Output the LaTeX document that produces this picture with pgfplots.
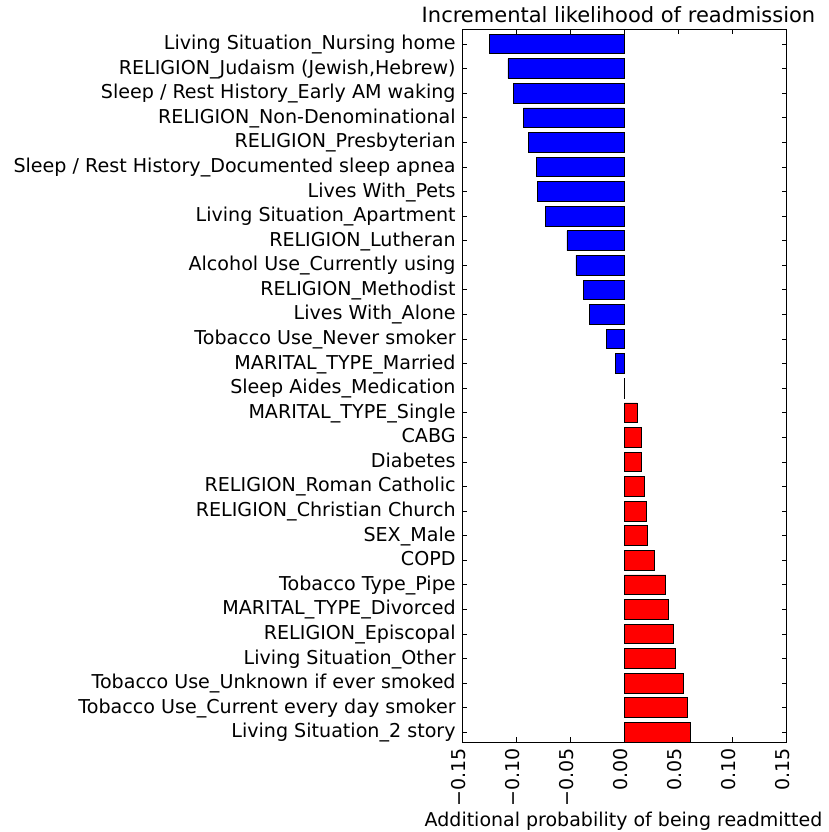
\documentclass[border=0pt]{standalone}
\usepackage{pgfplots}
\pgfplotsset{compat=1.18}
\usepackage{pgfplotstable}
\usepackage{fontspec}
\setmainfont{DejaVu Sans}

\definecolor{barblue}{RGB}{0,0,255}
\definecolor{barred}{RGB}{255,0,0}

% row index (0 = bottom row) and incremental probability
\pgfplotstableread{
y val
0  0.0613
1  0.0580
2  0.0545
3  0.0475
4  0.0450
5  0.0404
6  0.0382
7  0.0272
8  0.0216
9  0.0203
10 0.0188
11 0.0154
12 0.0155
13 0.0120
}\posdata

\pgfplotstableread{
y val
14 -0.0003
15 -0.0086
16 -0.0166
17 -0.0320
18 -0.0379
19 -0.0449
20 -0.0532
21 -0.0733
22 -0.0807
23 -0.0816
24 -0.0890
25 -0.0936
26 -0.1029
27 -0.1078
28 -0.1253
}\negdata

\begin{document}
\begin{tikzpicture}
\useasboundingbox (-462.3pt,-89.7pt) rectangle (366.7pt,742.3pt);
\begin{axis}[
  at={(0pt,0pt)}, anchor=south west,
  scale only axis,
  width=324.4pt, height=713pt,
  xmin=-0.15, xmax=0.15,
  ymin=-0.407, ymax=28.6,
  axis line style={black, line width=0.9pt},
  xtick pos=both, ytick pos=both,
  major tick length=5pt,
  every tick/.style={black, line width=0.8pt},
  xtick={-0.15,-0.10,-0.05,0,0.05,0.10,0.15},
  xticklabels={−0.15,−0.10,−0.05,0.00,0.05,0.10,0.15},
  ytick={0,...,28},
  yticklabels={
    Living Situation\_2 story,
    Tobacco Use\_Current every day smoker,
    Tobacco Use\_Unknown if ever smoked,
    Living Situation\_Other,
    RELIGION\_Episcopal,
    MARITAL\_TYPE\_Divorced,
    Tobacco Type\_Pipe,
    COPD,
    SEX\_Male,
    RELIGION\_Christian Church,
    RELIGION\_Roman Catholic,
    Diabetes,
    CABG,
    MARITAL\_TYPE\_Single,
    Sleep Aides\_Medication,
    MARITAL\_TYPE\_Married,
    Tobacco Use\_Never smoker,
    Lives With\_Alone,
    RELIGION\_Methodist,
    Alcohol Use\_Currently using,
    RELIGION\_Lutheran,
    Living Situation\_Apartment,
    Lives With\_Pets,
    Sleep / Rest History\_Documented sleep apnea,
    RELIGION\_Presbyterian,
    RELIGION\_Non-Denominational,
    Sleep / Rest History\_Early AM waking,
    {RELIGION\_Judaism (Jewish,Hebrew)},
    Living Situation\_Nursing home},
  yticklabel style={font=\fontsize{19.1}{22}\selectfont, anchor=base east, inner sep=0pt, yshift=-5.5pt},
  yticklabel shift=6.5pt,
  xticklabel style={font=\fontsize{19}{22}\selectfont, inner sep=0pt, xshift=3pt, rotate=90, anchor=base east},
  xticklabel shift=5.5pt,
  title={Incremental likelihood of readmission},
  every axis title/.style={at={(0.5,1)}, anchor=base, inner sep=0pt, yshift=6.3pt, xshift=-6pt,
    font=\fontsize{21}{24}\selectfont},
  xlabel={Additional probability of being readmitted},
  every axis x label/.style={at={(0.5,0)}, anchor=base, inner sep=0pt, yshift=-83.7pt, xshift=-1pt,
    font=\fontsize{19}{22}\selectfont},
  xtick align=inside, ytick align=inside,
]
\addplot[xbar, bar width=0.8, bar shift=0pt, fill=barblue, draw=black, line width=0.8pt] table[x=val, y=y] {\negdata};
\addplot[xbar, bar width=0.8, bar shift=0pt, fill=barred, draw=black, line width=0.8pt] table[x=val, y=y] {\posdata};
\end{axis}
\end{tikzpicture}
\end{document}
